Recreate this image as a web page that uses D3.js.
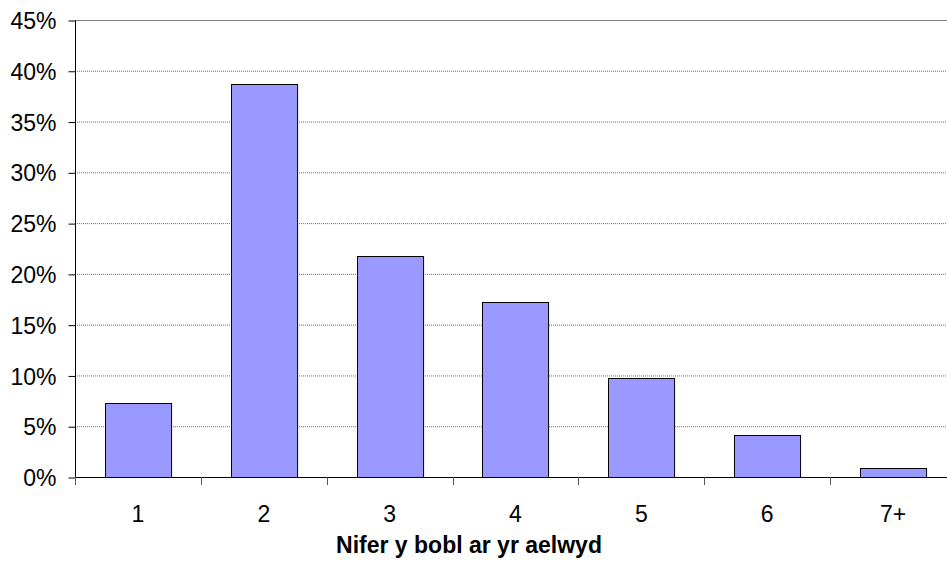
<!DOCTYPE html>
<html>
<head>
<meta charset="utf-8">
<script src="https://cdn.jsdelivr.net/npm/d3@7"></script>
<style>
  body { margin: 0; background: #fff; }
  text { font-family: "Liberation Sans", Arial, sans-serif; fill: #000; }
</style>
</head>
<body>
<svg id="chart"></svg>
<script>
// data
const categories = ["1", "2", "3", "4", "5", "6", "7+"];
const shares = [7.3, 38.7, 21.8, 17.2, 9.7, 4.1, 0.85];
const yTicks = [0, 5, 10, 15, 20, 25, 30, 35, 40, 45];
const xTitle = "Nifer y bobl ar yr aelwyd";

// init setting
const svg = d3.select("#chart")
    .attr("width", 947)
    .attr("height", 564);
const margin = { top: 20, left: 75 };
const plotRight = 956;   // plot runs past the right edge of the picture
const plotBottom = 477;

const x = d3.scaleBand()
    .domain(categories)
    .range([margin.left, plotRight])
    .paddingInner(0.475)
    .paddingOuter(0.2375);
const y = d3.scaleLinear()
    .domain([0, 45])
    .range([plotBottom, margin.top]);

// gridlines
svg.selectAll(".grid")
    .data(yTicks.filter(d => d > 0))
    .enter().append("line")
    .attr("class", "grid")
    .attr("x1", margin.left)
    .attr("x2", plotRight)
    .attr("y1", d => y(d) + 0.5)
    .attr("y2", d => y(d) + 0.5)
    .style("stroke", d => d === 45 ? "#808080" : "#6e6e6e")
    .style("stroke-width", 1)
    .style("stroke-dasharray", d => d === 45 ? null : "1,1");

// bars
svg.selectAll(".bar")
    .data(shares)
    .enter().append("rect")
    .attr("class", "bar")
    .attr("x", (d, i) => Math.round(x(categories[i])) + 0.5)
    .attr("y", d => Math.round(y(d)) + 0.5)
    .attr("width", x.bandwidth())
    .attr("height", d => plotBottom - Math.round(y(d)))
    .style("fill", "#9999ff")
    .style("stroke", "#000")
    .style("stroke-width", 1);

// y axis
const yAxis = svg.append("g")
    .attr("transform", `translate(${margin.left + 0.5},0.5)`)
    .call(d3.axisLeft(y)
        .tickValues(yTicks)
        .tickSize(7)
        .tickPadding(12)
        .tickFormat(d => d + "%"));
yAxis.select(".domain").attr("d", `M0,${margin.top}V${plotBottom}`).style("stroke", "#000");
yAxis.selectAll(".tick line").style("stroke", "#000");
yAxis.selectAll("text")
    .style("font-size", "23px")
    .attr("dy", "0.35em");

// x axis: ticks on category boundaries
const xAxis = svg.append("g").attr("class", "x-axis");
xAxis.append("line")
    .attr("x1", margin.left)
    .attr("x2", plotRight)
    .attr("y1", plotBottom + 0.5)
    .attr("y2", plotBottom + 0.5)
    .style("stroke", "#000");
xAxis.selectAll(".xtick")
    .data(d3.range(categories.length + 1))
    .enter().append("line")
    .attr("class", "xtick")
    .attr("x1", i => Math.round(margin.left + i * x.step()) + 0.5)
    .attr("x2", i => Math.round(margin.left + i * x.step()) + 0.5)
    .attr("y1", plotBottom)
    .attr("y2", plotBottom + 8)
    .style("stroke", "#555");
xAxis.selectAll(".xlabel")
    .data(categories)
    .enter().append("text")
    .attr("class", "xlabel")
    .attr("x", d => x(d) + x.bandwidth() / 2)
    .attr("y", 522)
    .style("text-anchor", "middle")
    .style("font-size", "23px")
    .text(d => d);

// axis title
svg.append("text")
    .attr("x", 469)
    .attr("y", 553)
    .style("text-anchor", "middle")
    .style("font-size", "23px")
    .style("font-weight", "bold")
    .text(xTitle);
</script>
</body>
</html>
